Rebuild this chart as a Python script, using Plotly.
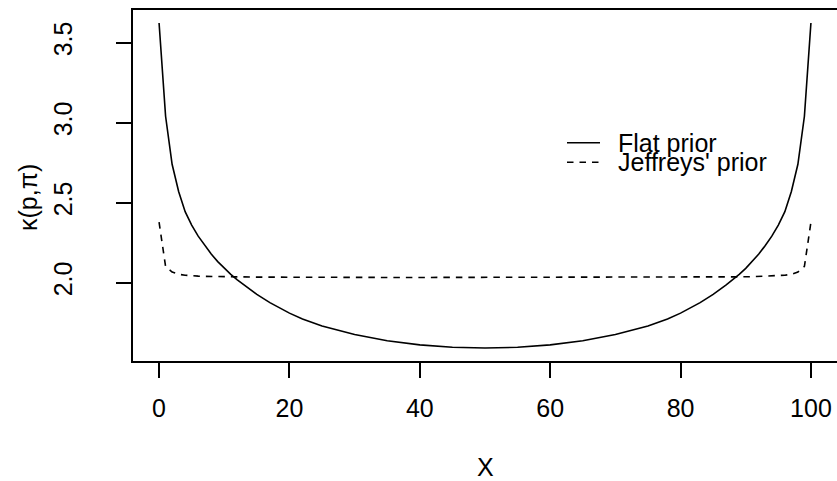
import plotly.graph_objects as go

# Data
x_vals = [0, 1, 2, 3, 4, 5, 6, 7, 8, 9, 10, 11, 12, 13, 15, 17, 20, 22, 25, 30, 35, 40, 45,
          50,
          55, 60, 65, 70, 75, 78, 80, 83, 85, 87, 88, 89, 90, 91, 92, 93, 94, 95, 96, 97, 98, 99, 100]
flat_prior = [3.623, 3.04, 2.74, 2.57, 2.444, 2.36, 2.291, 2.233, 2.179, 2.132, 2.09, 2.052, 2.018, 1.986,
              1.927, 1.876, 1.81, 1.774, 1.73, 1.676, 1.637, 1.612, 1.597,
              1.592,
              1.597, 1.612, 1.637, 1.676, 1.73, 1.774, 1.81, 1.876, 1.927, 1.986, 2.018, 2.052, 2.09,
              2.132, 2.179, 2.233, 2.291, 2.36, 2.444, 2.57, 2.74, 3.04, 3.623]
jeffreys_prior = [2.378, 2.102, 2.067, 2.053, 2.047, 2.043, 2.041, 2.04, 2.039, 2.038, 2.037, 2.037, 2.036, 2.036,
                  2.035, 2.035, 2.034, 2.034, 2.034, 2.033, 2.033, 2.033, 2.033,
                  2.033,
                  2.033, 2.033, 2.033, 2.033, 2.034, 2.034, 2.034, 2.035, 2.035, 2.036, 2.036, 2.037, 2.037,
                  2.038, 2.039, 2.04, 2.041, 2.043, 2.047, 2.053, 2.067, 2.102, 2.378]

x_ticks = [0, 20, 40, 60, 80, 100]
y_ticks = [2.0, 2.5, 3.0, 3.5]
y_ticklabels = ["2.0", "2.5", "3.0", "3.5"]
legend_labels = ["Flat prior", "Jeffreys' prior"]

FONT = "Liberation Sans, Arial, Helvetica, sans-serif"
FS = 25
LW = 1.6

fig = go.Figure()
fig.add_trace(go.Scatter(x=x_vals, y=flat_prior, mode="lines",
                         line=dict(color="black", width=LW), showlegend=False))
fig.add_trace(go.Scatter(x=x_vals, y=jeffreys_prior, mode="lines",
                         line=dict(color="black", width=LW, dash="6.5px,6px"), showlegend=False))

W, H = 837, 481
L, R, T, B = 133, 0, 10, 120
pw, ph = W - L - R, H - T - B

def px2x(px):
    return (px - L) / pw

def py2y(py):
    return (H - B - py) / ph

# manual legend
leg_rows = [(142.7, "solid"), (162.3, "6.5px,6px")]
for (ypix, dash), lab in zip(leg_rows, legend_labels):
    fig.add_shape(type="line", xref="paper", yref="paper",
                  x0=px2x(567), x1=px2x(600), y0=py2y(ypix), y1=py2y(ypix),
                  line=dict(color="black", width=LW, dash=dash))
    fig.add_annotation(xref="paper", yref="paper", x=px2x(616), y=py2y(ypix),
                       text=lab, showarrow=False, xanchor="left", yanchor="middle",
                       font=dict(family=FONT, size=FS, color="black"))

# axis titles
fig.add_annotation(xref="paper", yref="paper", x=px2x(485), y=py2y(467),
                   text="X", showarrow=False, xanchor="center", yanchor="middle",
                   font=dict(family=FONT, size=FS, color="black"))
fig.add_annotation(xref="paper", yref="paper", x=px2x(28), y=py2y(198),
                   text="κ(p,π)", showarrow=False, textangle=-90,
                   xanchor="center", yanchor="middle",
                   font=dict(family=FONT, size=FS, color="black"))

fig.update_layout(
    width=W, height=H,
    margin=dict(l=L, r=R, t=T, b=B),
    paper_bgcolor="white", plot_bgcolor="white",
    font=dict(family=FONT, size=FS, color="black"),
    showlegend=False,
    xaxis=dict(range=[-4, 104], tickvals=x_ticks, ticks="outside", ticklen=15, tickwidth=LW,
               tickcolor="black", showgrid=False, zeroline=False, showline=True,
               linecolor="black", linewidth=LW, mirror=True, ticklabelstandoff=9,
               tickfont=dict(family=FONT, size=FS, color="black")),
    yaxis=dict(range=[1.511, 3.704], tickvals=y_ticks, ticktext=y_ticklabels, ticks="outside",
               ticklen=15, tickwidth=LW, tickcolor="black", tickangle=-90,
               showgrid=False, zeroline=False, showline=True, linecolor="black", linewidth=LW,
               ticklabelstandoff=34,
               tickfont=dict(family=FONT, size=FS, color="black")),
)

fig.write_html("out.html", config={"displayModeBar": False},
               post_script="document.body.style.margin='0';document.body.style.overflow='hidden';")
